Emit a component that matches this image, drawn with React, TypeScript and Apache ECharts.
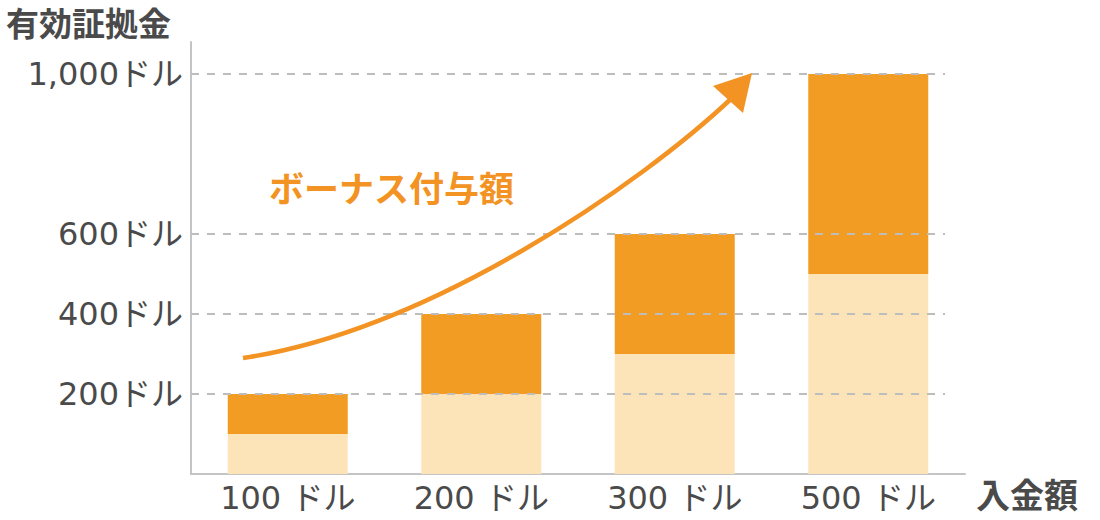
import { useEffect, useRef } from "react";
import * as echarts from "echarts";

// deposit amounts (x categories)
const categories = ["100 ドル", "200 ドル", "300 ドル", "500 ドル"];
// deposit itself (light part) and bonus on top (dark part)
const depositValues = [100, 200, 300, 500];
const bonusValues = [100, 200, 300, 500];
// y ticks that carry a label and a dashed line
const yTicks = [200, 400, 600, 1000];

const TEXT = "#4a4a4a";
const DARK = "#F39C24";
const LIGHT = "#FCE4B8";
const ARROW = "#F39323";
const NUM_FONT = "'DejaVu Sans', 'Noto Sans CJK JP', sans-serif";
const JP_FONT = "'Noto Sans CJK JP', sans-serif";

export default function App() {
  const chartRef = useRef<HTMLDivElement>(null);

  useEffect(() => {
    if (!chartRef.current) return;
    const chart = echarts.init(chartRef.current, undefined, { renderer: "svg" });

    const fmtDollar = (v: number) => v.toLocaleString("en-US") + "ドル";

    const option: echarts.EChartsOption = {
      animation: false,
      grid: { left: 191, right: 135, top: 42, bottom: 46 },
      xAxis: [
        {
          type: "category",
          data: categories,
          axisLine: { lineStyle: { color: "#c4c4c4", width: 2 } },
          axisTick: { show: false },
          axisLabel: {
            color: TEXT,
            fontSize: 32,
            fontFamily: NUM_FONT,
            margin: 8,
          },
        },
        // helper axis so the dashed lines stop short of the x axis end
        { type: "value", min: 0, max: 774, show: false },
      ],
      yAxis: {
        type: "value",
        min: 0,
        max: 1080,
        interval: 200,
        axisLine: { show: true, lineStyle: { color: "#c4c4c4", width: 2 } },
        axisTick: { show: false },
        splitLine: { show: false },
        axisLabel: {
          color: TEXT,
          fontSize: 32,
          fontFamily: NUM_FONT,
          margin: 8,
          showMaxLabel: false,
          formatter: (v: number) => (yTicks.includes(v) ? fmtDollar(v) : ""),
        },
      },
      series: [
        {
          type: "line",
          xAxisIndex: 1,
          data: [],
          silent: true,
          z: 1,
          markLine: {
            silent: true,
            symbol: "none",
            label: { show: false },
            lineStyle: { color: "#bdbdbd", type: [8, 8], width: 2 },
            data: yTicks.map((t) => [
              { coord: [0, t] },
              { coord: [754, t] },
            ]) as any,
          },
        },
        {
          type: "bar",
          stack: "total",
          data: depositValues,
          barWidth: 120,
          itemStyle: { color: LIGHT },
          z: 2,
        },
        {
          type: "bar",
          stack: "total",
          data: bonusValues,
          barWidth: 120,
          itemStyle: { color: DARK },
          z: 2,
        },
      ],
      title: [
        {
          text: "有効証拠金",
          left: 6,
          top: 5,
          padding: 0,
          textStyle: {
            color: TEXT,
            fontSize: 33,
            fontWeight: "bold",
            fontFamily: JP_FONT,
          },
        },
        {
          text: "入金額",
          left: 976,
          top: 476,
          padding: 0,
          textStyle: {
            color: TEXT,
            fontSize: 34,
            fontWeight: "bold",
            fontFamily: JP_FONT,
          },
        },
        {
          text: "ボーナス付与額",
          left: 269,
          top: 169,
          padding: 0,
          textStyle: {
            color: ARROW,
            fontSize: 35,
            fontWeight: "bold",
            fontFamily: JP_FONT,
          },
        },
      ],
      graphic: [
        {
          type: "bezierCurve",
          shape: {
            x1: 243,
            y1: 358,
            cpx1: 430,
            cpy1: 330,
            cpx2: 640,
            cpy2: 185,
            x2: 733,
            y2: 97,
          },
          style: { stroke: ARROW, lineWidth: 4.5, fill: "none" },
          z: 10,
        },
        {
          type: "polygon",
          shape: {
            points: [
              [752, 73],
              [713, 86],
              [743, 113],
            ],
          },
          style: { fill: ARROW },
          z: 10,
        },
      ],
    };

    chart.setOption(option);
    return () => chart.dispose();
  }, []);

  return (
    <div
      ref={chartRef}
      style={{ position: "absolute", left: 0, top: 0, width: 1100, height: 520 }}
    />
  );
}
